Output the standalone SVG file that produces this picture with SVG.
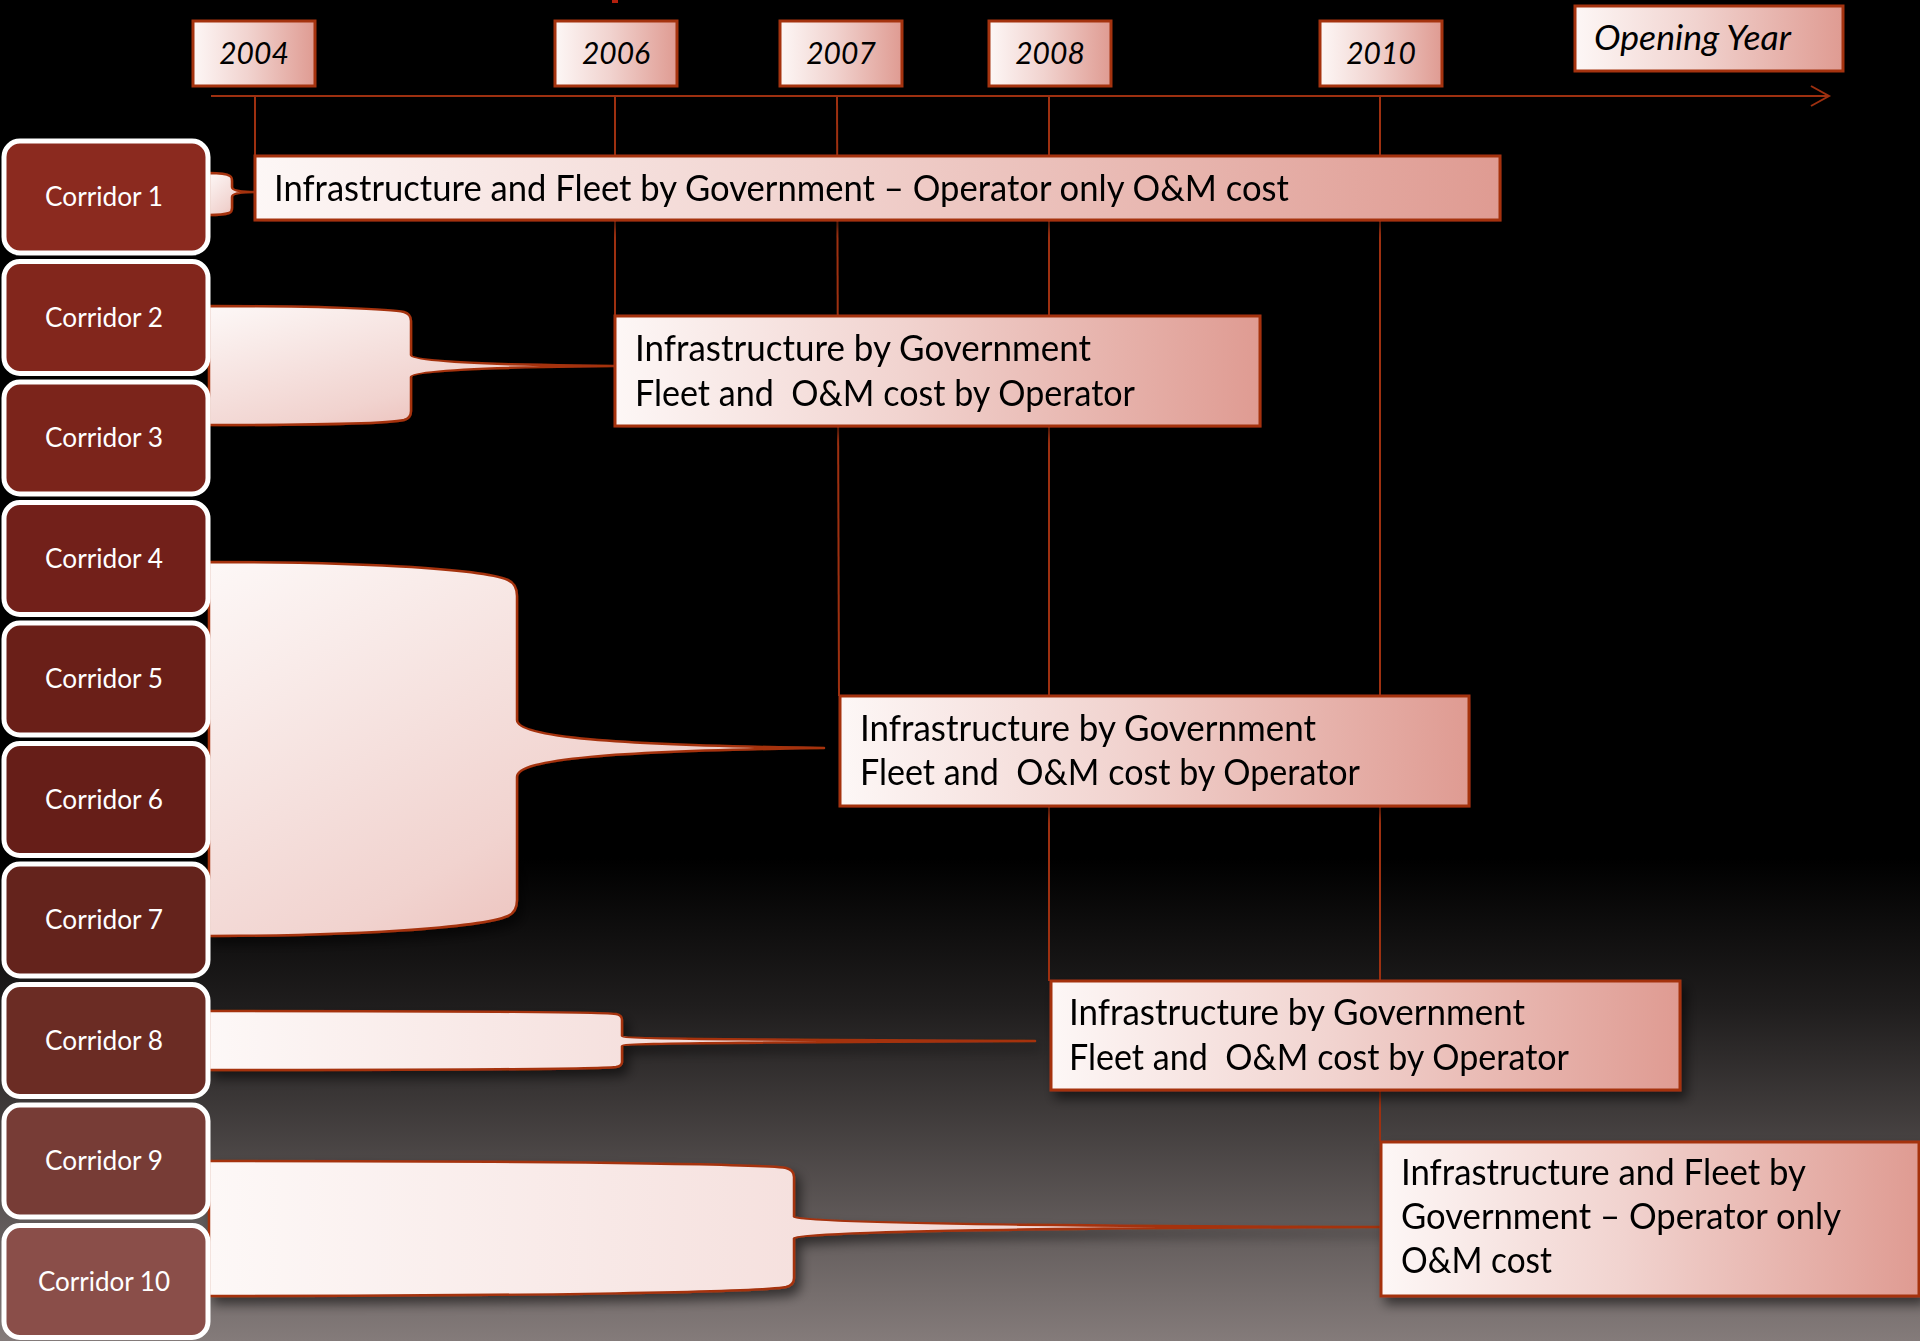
<svg xmlns="http://www.w3.org/2000/svg" width="1920" height="1341" viewBox="0 0 1920 1341">
  <defs>
    <linearGradient id="bg" x1="0" y1="0" x2="0" y2="1341" gradientUnits="userSpaceOnUse">
      <stop offset="0" stop-color="#000000"/>
      <stop offset="0.64" stop-color="#000000"/>
      <stop offset="0.75" stop-color="#1f1d1d"/>
      <stop offset="1" stop-color="#847b7a"/>
    </linearGradient>
    <linearGradient id="boxFill" x1="0" y1="0" x2="1" y2="0">
      <stop offset="0" stop-color="#fdf7f6"/>
      <stop offset="0.45" stop-color="#f1d3cf"/>
      <stop offset="1" stop-color="#df9b92"/>
    </linearGradient>
    <linearGradient id="braceFill" x1="0" y1="0" x2="1" y2="1">
      <stop offset="0" stop-color="#fdf8f7"/>
      <stop offset="0.6" stop-color="#f1d3cf"/>
      <stop offset="1" stop-color="#e6aca5"/>
    </linearGradient>
    <linearGradient id="braceFillH" x1="0" y1="0" x2="1" y2="0">
      <stop offset="0" stop-color="#fdf8f7"/>
      <stop offset="1" stop-color="#eec9c5"/>
    </linearGradient>
    <filter id="shadow" x="-10%" y="-20%" width="125%" height="150%">
      <feDropShadow dx="5" dy="7" stdDeviation="6" flood-color="#000" flood-opacity="0.55"/>
    </filter>
  </defs>
  <style>
    .box { fill: url(#boxFill); stroke: #a5330f; stroke-width: 3; }
    .brace { stroke: #a5330f; stroke-width: 2.5; stroke-linejoin: round; }
    .line { stroke: #9e3010; stroke-width: 2; fill: none; }
    .corr { stroke: #ffffff; stroke-width: 5; }
    .ctext { font-family: Lato, "Liberation Sans", Arial, sans-serif; font-size: 26px; fill: #ffffff; text-anchor: middle; }
    .btext { font-family: Lato, "Liberation Sans", Arial, sans-serif; font-size: 36px; fill: #000000; white-space: pre; }
    .ytext { font-family: Lato, "Liberation Sans", Arial, sans-serif; font-size: 30px; font-style: italic; fill: #000000; text-anchor: middle; }
  </style>

  <rect x="0" y="0" width="1920" height="1341" fill="url(#bg)"/>
  <rect x="612" y="0" width="6" height="3" fill="#b3200e"/>

  <g id="connectors">
    <line class="line" x1="211" y1="96" x2="1828" y2="96" stroke-width="2.5"/>
    <polyline class="line" points="1811,86 1829,96 1811,106" stroke-width="2.5"/>
    <line class="line" x1="255" y1="96" x2="255" y2="156"/>
    <line class="line" x1="615" y1="96" x2="615" y2="316"/>
    <line class="line" x1="837" y1="96" x2="839" y2="696"/>
    <line class="line" x1="1049" y1="96" x2="1049" y2="981"/>
    <line class="line" x1="1380" y1="96" x2="1380" y2="1141"/>
  </g>

  <g id="year-2004"><rect class="box" x="193" y="21" width="122" height="65"/><text class="ytext" x="254" y="64">2004</text></g>
  <g id="year-2006"><rect class="box" x="555" y="21" width="122" height="65"/><text class="ytext" x="616" y="64">2006</text></g>
  <g id="year-2007"><rect class="box" x="780" y="21" width="122" height="65"/><text class="ytext" x="841" y="64">2007</text></g>
  <g id="year-2008"><rect class="box" x="989" y="21" width="122" height="65"/><text class="ytext" x="1050" y="64">2008</text></g>
  <g id="year-2010"><rect class="box" x="1320" y="21" width="122" height="65"/><text class="ytext" x="1381" y="64">2010</text></g>
  <g id="opening-year"><rect class="box" x="1575" y="6" width="268" height="65"/><text class="ytext" x="1594" y="50" style="font-size:34px;text-anchor:start" textLength="197" lengthAdjust="spacingAndGlyphs">Opening Year</text></g>

  <g id="braces" filter="url(#shadow)">
    <path id="brace-1" class="brace" fill="url(#braceFill)" d="M209,173 C220,173 227,174 230,176 Q232,177 232,181 L232,187 C232,191 244,192 255,192 C244,192 232,193 232,197 L232,208 Q232,212 229,213 C226,214 220,215 209,215 Z"/>
    <path id="brace-2" class="brace" fill="url(#braceFill)" d="M209,306 C320,306 392,309 404,312 Q411,314 411,321 L411,355 C411,362 500,365 614,366 C500,367 411,370 411,377 L411,411 Q411,418 404,420 C392,423 320,425 209,425 Z"/>
    <path id="brace-3" class="brace" fill="url(#braceFill)" d="M209,562 C350,562 480,568 508,580 Q517,584 517,596 L517,720 C517,737 610,745 824,748 C610,751 517,759 517,777 L517,900 Q517,912 508,916 C480,928 350,936 209,936 Z"/>
    <path id="brace-4" class="brace" fill="url(#braceFillH)" d="M209,1011 C450,1011 600,1012 616,1014 Q622,1015 622,1020 L622,1036 C622,1039 800,1040 1035,1041 C800,1042 622,1043 622,1046 L622,1062 Q622,1066 616,1067 C600,1069 450,1070 209,1070 Z"/>
    <path id="brace-5" class="brace" fill="url(#braceFillH)" d="M209,1161 C550,1161 760,1164 786,1168 Q794,1170 794,1177 L794,1217 C794,1223 1050,1226 1381,1227 C1050,1228 794,1232 794,1238 L794,1278 Q794,1285 786,1287 C760,1292 550,1296 209,1296 Z"/>
  </g>

  <g id="corridor-1"><rect class="corr" x="4" y="141" width="204" height="112" rx="16" fill="#8b2a1f"/><text class="ctext" x="104" y="206" textLength="118" lengthAdjust="spacingAndGlyphs">Corridor 1</text></g>
  <g id="corridor-2"><rect class="corr" x="4" y="261.5" width="204" height="112" rx="16" fill="#82261c"/><text class="ctext" x="104" y="326.5" textLength="118" lengthAdjust="spacingAndGlyphs">Corridor 2</text></g>
  <g id="corridor-3"><rect class="corr" x="4" y="382" width="204" height="112" rx="16" fill="#7b241b"/><text class="ctext" x="104" y="447" textLength="118" lengthAdjust="spacingAndGlyphs">Corridor 3</text></g>
  <g id="corridor-4"><rect class="corr" x="4" y="502.5" width="204" height="112" rx="16" fill="#72201a"/><text class="ctext" x="104" y="567.5" textLength="118" lengthAdjust="spacingAndGlyphs">Corridor 4</text></g>
  <g id="corridor-5"><rect class="corr" x="4" y="623" width="204" height="112" rx="16" fill="#6a1f18"/><text class="ctext" x="104" y="688" textLength="118" lengthAdjust="spacingAndGlyphs">Corridor 5</text></g>
  <g id="corridor-6"><rect class="corr" x="4" y="743.5" width="204" height="112" rx="16" fill="#661e18"/><text class="ctext" x="104" y="808.5" textLength="118" lengthAdjust="spacingAndGlyphs">Corridor 6</text></g>
  <g id="corridor-7"><rect class="corr" x="4" y="864" width="204" height="112" rx="16" fill="#64231c"/><text class="ctext" x="104" y="929" textLength="118" lengthAdjust="spacingAndGlyphs">Corridor 7</text></g>
  <g id="corridor-8"><rect class="corr" x="4" y="984.5" width="204" height="112" rx="16" fill="#6b2c24"/><text class="ctext" x="104" y="1049.5" textLength="118" lengthAdjust="spacingAndGlyphs">Corridor 8</text></g>
  <g id="corridor-9"><rect class="corr" x="4" y="1105" width="204" height="112" rx="16" fill="#773c36"/><text class="ctext" x="104" y="1170" textLength="118" lengthAdjust="spacingAndGlyphs">Corridor 9</text></g>
  <g id="corridor-10"><rect class="corr" x="4" y="1225.5" width="204" height="112" rx="16" fill="#8a4e49"/><text class="ctext" x="104" y="1290.5" textLength="132" lengthAdjust="spacingAndGlyphs">Corridor 10</text></g>

  <g id="box-1" filter="url(#shadow)">
    <rect class="box" x="255" y="156" width="1245" height="64"/>
    <text class="btext" x="274" y="201" textLength="1015" lengthAdjust="spacingAndGlyphs">Infrastructure and Fleet by Government – Operator only O&amp;M cost</text>
  </g>
  <g id="box-2" filter="url(#shadow)">
    <rect class="box" x="615" y="316" width="645" height="110"/>
    <text class="btext" x="635" y="361" textLength="456" lengthAdjust="spacingAndGlyphs">Infrastructure by Government</text>
    <text class="btext" x="635" y="406" textLength="500" lengthAdjust="spacingAndGlyphs">Fleet and  O&amp;M cost by Operator</text>
  </g>
  <g id="box-3" filter="url(#shadow)">
    <rect class="box" x="840" y="696" width="629" height="110"/>
    <text class="btext" x="860" y="741" textLength="456" lengthAdjust="spacingAndGlyphs">Infrastructure by Government</text>
    <text class="btext" x="860" y="785" textLength="500" lengthAdjust="spacingAndGlyphs">Fleet and  O&amp;M cost by Operator</text>
  </g>
  <g id="box-4" filter="url(#shadow)">
    <rect class="box" x="1051" y="981" width="629" height="109"/>
    <text class="btext" x="1069" y="1025" textLength="456" lengthAdjust="spacingAndGlyphs">Infrastructure by Government</text>
    <text class="btext" x="1069" y="1070" textLength="500" lengthAdjust="spacingAndGlyphs">Fleet and  O&amp;M cost by Operator</text>
  </g>
  <g id="box-5" filter="url(#shadow)">
    <rect class="box" x="1381" y="1142" width="538" height="154"/>
    <text class="btext" x="1401" y="1185" textLength="405" lengthAdjust="spacingAndGlyphs">Infrastructure and Fleet by</text>
    <text class="btext" x="1401" y="1229" textLength="440" lengthAdjust="spacingAndGlyphs">Government – Operator only</text>
    <text class="btext" x="1401" y="1273" textLength="151" lengthAdjust="spacingAndGlyphs">O&amp;M cost</text>
  </g>
</svg>
